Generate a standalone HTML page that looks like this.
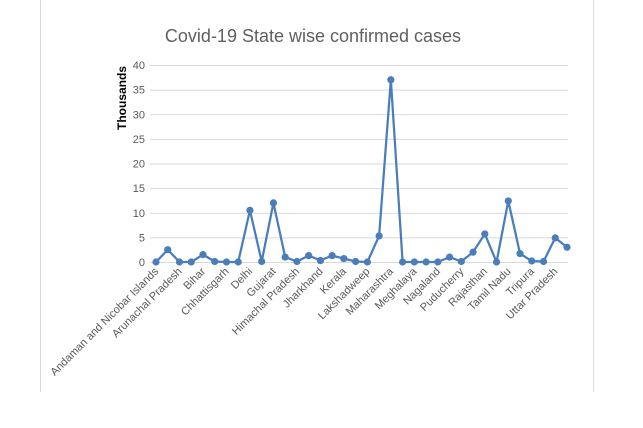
<!DOCTYPE html>
<html><head><meta charset="utf-8"><style>
body{margin:0;background:#fff;width:643px;height:423px;overflow:hidden;font-family:"Liberation Sans",sans-serif}
</style></head><body>
<svg width="643" height="423">
<line x1="40.5" y1="0" x2="40.5" y2="392" stroke="#d9d9d9"/>
<line x1="593.5" y1="0" x2="593.5" y2="392" stroke="#d9d9d9"/>
<text x="313" y="42" text-anchor="middle" font-size="18" fill="#606060">Covid-19 State wise confirmed cases</text>
<text transform="translate(126,98) rotate(-90)" text-anchor="middle" font-size="12" font-weight="bold" fill="#000">Thousands</text>
<g id="grid"></g><g id="ylab"></g><g id="xlab"></g><g id="series"></g>
</svg>
<script>
const categories=["Andaman and Nicobar Islands","Andhra Pradesh","Arunachal Pradesh","Assam","Bihar","Chandigarh","Chhattisgarh","Dadra and Nagar Haveli","Delhi","Goa","Gujarat","Haryana","Himachal Pradesh","Jammu and Kashmir","Jharkhand","Karnataka","Kerala","Ladakh","Lakshadweep","Madhya Pradesh","Maharashtra","Manipur","Meghalaya","Mizoram","Nagaland","Odisha","Puducherry","Punjab","Rajasthan","Sikkim","Tamil Nadu","Telangana","Tripura","Uttarakhand","Uttar Pradesh","West Bengal"];
const values=[0,2.5,0,0,1.5,0.1,0,0,10.5,0.1,12,1,0.1,1.3,0.3,1.3,0.7,0.1,0,5.3,37,0,0,0,0,1,0.1,2,5.7,0,12.4,1.7,0.2,0.1,4.9,3];
const yTicks=[0,5,10,15,20,25,30,35,40];
const NS="http://www.w3.org/2000/svg";
const x=i=>156+i*(567-156)/(categories.length-1);
const y=v=>262-v*(262-65)/40;
function mk(t,a,p){const e=document.createElementNS(NS,t);for(const k in a)e.setAttribute(k,a[k]);document.getElementById(p).appendChild(e);return e;}
yTicks.forEach(t=>{
 const l=mk('line',{x1:150,x2:568,y1:y(t)+0.5,y2:y(t)+0.5,stroke:'#d9d9d9'},'grid');
 
 
 const tx=mk('text',{x:145,y:y(t)+4,'text-anchor':'end','font-size':11,fill:'#595959'},'ylab');
 tx.textContent=t;
 
 
});
categories.forEach((c,i)=>{
 if(i%2)return;
 const tx=mk('text',{transform:`translate(${x(i)+3},${272}) rotate(-45)`,'text-anchor':'end','font-size':11,fill:'#595959'},'xlab');
 tx.textContent=c;
 
 
});
const pl=mk('polyline',{points:values.map((v,i)=>x(i)+','+y(v)).join(' '),fill:'none',stroke:'#4a7ebb','stroke-width':2.25,'stroke-linejoin':'round'},'series');


values.forEach((v,i)=>{
 const c=mk('circle',{cx:x(i),cy:y(v),r:3.6,fill:'#4a7ebb'},'series');
 
 
});
</script>
</body></html>
